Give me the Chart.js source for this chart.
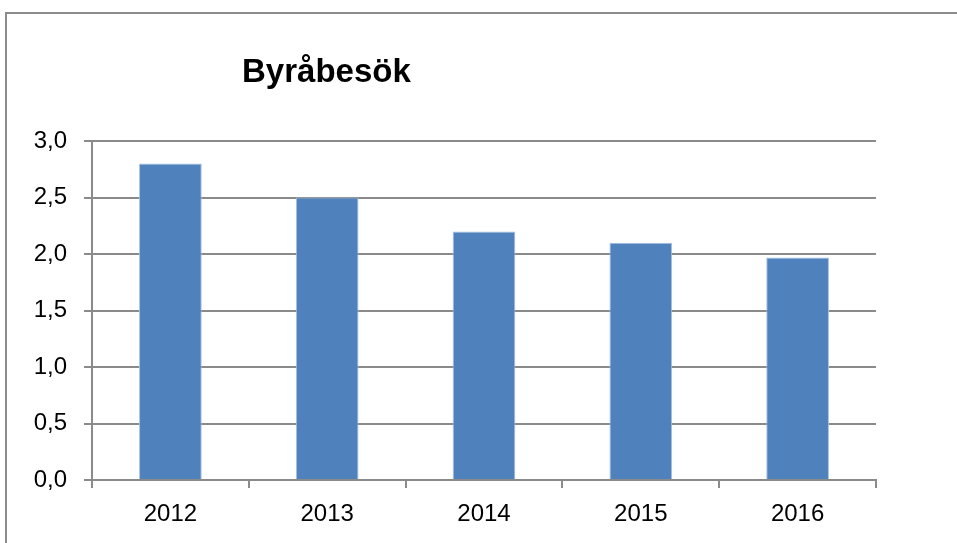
<!DOCTYPE html>
<html>
<head>
<meta charset="utf-8">
<script src="https://cdn.jsdelivr.net/npm/chart.js@4/dist/chart.umd.min.js"></script>
<style>
	html, body { margin: 0; padding: 0; background: #fff; }
	#wrap { position: relative; width: 957px; height: 543px; overflow: hidden; }
	#frame { position: absolute; left: 5px; top: 12px; width: 980px; height: 560px; border: 2px solid #8c8c8c; box-sizing: border-box; }
	#c { position: absolute; left: 0; top: 0; }
</style>
</head>
<body>
<div id="wrap">
	<div id="frame"></div>
	<canvas id="c" width="957" height="543"></canvas>
</div>
<script>
// data
var years = ['2012', '2013', '2014', '2015', '2016']
var visits = [2.8, 2.5, 2.2, 2.1, 1.97]
var chartTitle = 'Byråbesök'

var gridColor = '#8a8a8a'

// title sits left of centre in the original, so draw it ourselves
var titlePlugin = {
	id: 'leftTitle',
	afterDraw: function (chart) {
		var ctx = chart.ctx
		ctx.save()
		ctx.font = 'bold 33px "Liberation Sans", Arial, sans-serif'
		ctx.fillStyle = '#000'
		ctx.textAlign = 'left'
		ctx.textBaseline = 'alphabetic'
		ctx.fillText(chartTitle, 242, 82)
		ctx.restore()
	}
}

Chart.defaults.font.family = '"Liberation Sans", Arial, sans-serif'
Chart.defaults.font.size = 24
Chart.defaults.color = '#000'

new Chart(document.getElementById('c'), {
	type: 'bar',
	data: {
		labels: years,
		datasets: [{
			data: visits,
			backgroundColor: '#4f81bd',
			borderColor: '#a7c0de',
			borderWidth: 1,
			barPercentage: 0.4,
			categoryPercentage: 1.0
		}]
	},
	options: {
		responsive: false,
		animation: false,
		layout: { padding: { left: 0, right: 81, top: 141, bottom: 0 } },
		plugins: {
			legend: { display: false },
			title: { display: false },
			tooltip: { enabled: false }
		},
		scales: {
			x: {
				grid: {
					offset: true,
					drawOnChartArea: false,
					drawTicks: true,
					tickLength: 8,
					color: gridColor,
					lineWidth: 2
				},
				border: { color: gridColor, width: 2 },
				ticks: { padding: 12 },
				afterFit: function (s) { s.height = 63 }
			},
			y: {
				min: 0,
				max: 3,
				ticks: {
					stepSize: 0.5,
					padding: 17,
					callback: function (v) { return v.toFixed(1).replace('.', ',') }
				},
				grid: {
					color: gridColor,
					lineWidth: 2,
					tickLength: 8
				},
				border: { color: gridColor, width: 2 },
				afterFit: function (s) { s.width = 92 }
			}
		}
	},
	plugins: [titlePlugin]
})
</script>
</body>
</html>
